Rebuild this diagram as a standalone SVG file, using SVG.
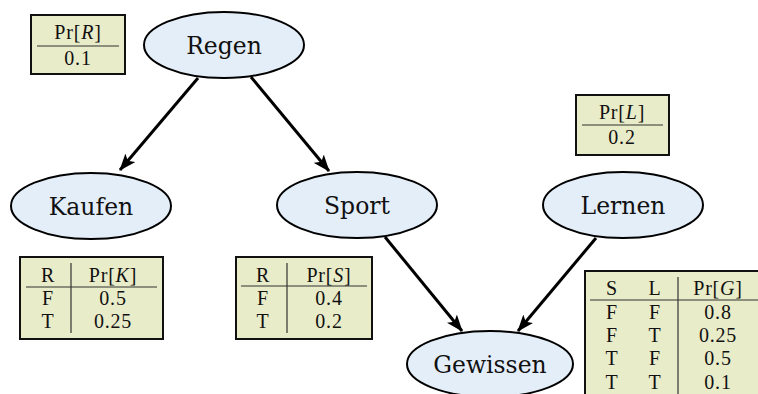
<svg xmlns="http://www.w3.org/2000/svg" width="758" height="394" viewBox="0 0 758 394">
<style>
.node ellipse{fill:#e4eef8;stroke:#000;stroke-width:2}
.node text{font-family:"DejaVu Serif",serif;font-size:23.5px;text-anchor:middle;fill:#111}
.tbl rect{fill:#e9ecc9;stroke:#111;stroke-width:2}
.tbl line{stroke:#333;stroke-width:1.2}
.tbl text{font-family:"Liberation Serif","Times New Roman",serif;font-size:20px;letter-spacing:0.8px;text-anchor:middle;fill:#111}
.it{font-style:italic}
.edge line{stroke:#000;stroke-width:3;marker-end:url(#ah)}
</style>
<defs>
<marker id="ah" viewBox="0 0 17 13" refX="16" refY="6.5" markerWidth="17" markerHeight="13" markerUnits="userSpaceOnUse" orient="auto">
<path d="M0,0 L17,6.5 L0,13 L4,6.5 Z" fill="#000"/>
</marker>
</defs>
<rect width="758" height="394" fill="#fff"/>
<g id="connectors" class="edge">
<line x1="198" y1="78" x2="120" y2="170"/>
<line x1="251" y1="77" x2="329" y2="171"/>
<line x1="385" y1="237" x2="462" y2="331"/>
<line x1="596" y1="238" x2="518" y2="331"/>
</g>
<g id="regen" class="node"><ellipse cx="224" cy="45" rx="80" ry="33"/><text x="224" y="53.5">Regen</text></g>
<g id="kaufen" class="node"><ellipse cx="91" cy="206" rx="80" ry="33"/><text x="91" y="214.5">Kaufen</text></g>
<g id="sport" class="node"><ellipse cx="357" cy="205" rx="80" ry="33"/><text x="357" y="213.5">Sport</text></g>
<g id="lernen" class="node"><ellipse cx="623" cy="205" rx="80" ry="33"/><text x="623" y="213.5">Lernen</text></g>
<g id="gewissen" class="node"><ellipse cx="490" cy="364" rx="83" ry="33"/><text x="490" y="372.5">Gewissen</text></g>
<g id="cpt-r" class="tbl">
<rect x="31" y="15" width="94" height="59"/>
<line x1="37" y1="46" x2="119" y2="46"/>
<text x="78" y="39">Pr[<tspan class="it">R</tspan>]</text>
<text x="78" y="65">0.1</text>
</g>
<g id="cpt-l" class="tbl">
<rect x="576" y="95" width="93" height="60"/>
<line x1="582" y1="125" x2="663" y2="125"/>
<text x="622" y="119">Pr[<tspan class="it">L</tspan>]</text>
<text x="622" y="144">0.2</text>
</g>
<g id="cpt-k" class="tbl">
<rect x="20" y="257" width="143" height="82"/>
<line x1="26" y1="287" x2="157" y2="287"/>
<line x1="71" y1="263" x2="71" y2="333"/>
<text x="48" y="281.5">R</text><text x="113" y="281.5">Pr[<tspan class="it">K</tspan>]</text>
<text x="48" y="304.5">F</text><text x="113" y="304.5">0.5</text>
<text x="48" y="327.5">T</text><text x="113" y="327.5">0.25</text>
</g>
<g id="cpt-s" class="tbl">
<rect x="236" y="257" width="136" height="82"/>
<line x1="241" y1="286" x2="367" y2="286"/>
<line x1="287" y1="263" x2="287" y2="333"/>
<text x="263" y="281.5">R</text><text x="329" y="281.5">Pr[<tspan class="it">S</tspan>]</text>
<text x="263" y="304.5">F</text><text x="329" y="304.5">0.4</text>
<text x="263" y="327.5">T</text><text x="329" y="327.5">0.2</text>
</g>
<g id="cpt-g" class="tbl">
<rect x="585" y="271" width="200" height="140"/>
<line x1="590" y1="300" x2="760" y2="300"/>
<line x1="678" y1="277" x2="678" y2="394"/>
<text x="612" y="294.5">S</text><text x="655" y="294.5">L</text><text x="718" y="294.5">Pr[<tspan class="it">G</tspan>]</text>
<text x="612" y="318.5">F</text><text x="655" y="318.5">F</text><text x="718" y="318.5">0.8</text>
<text x="612" y="341.5">F</text><text x="655" y="341.5">T</text><text x="718" y="341.5">0.25</text>
<text x="612" y="364.5">T</text><text x="655" y="364.5">F</text><text x="718" y="364.5">0.5</text>
<text x="612" y="388.5">T</text><text x="655" y="388.5">T</text><text x="718" y="388.5">0.1</text>
</g>
</svg>
